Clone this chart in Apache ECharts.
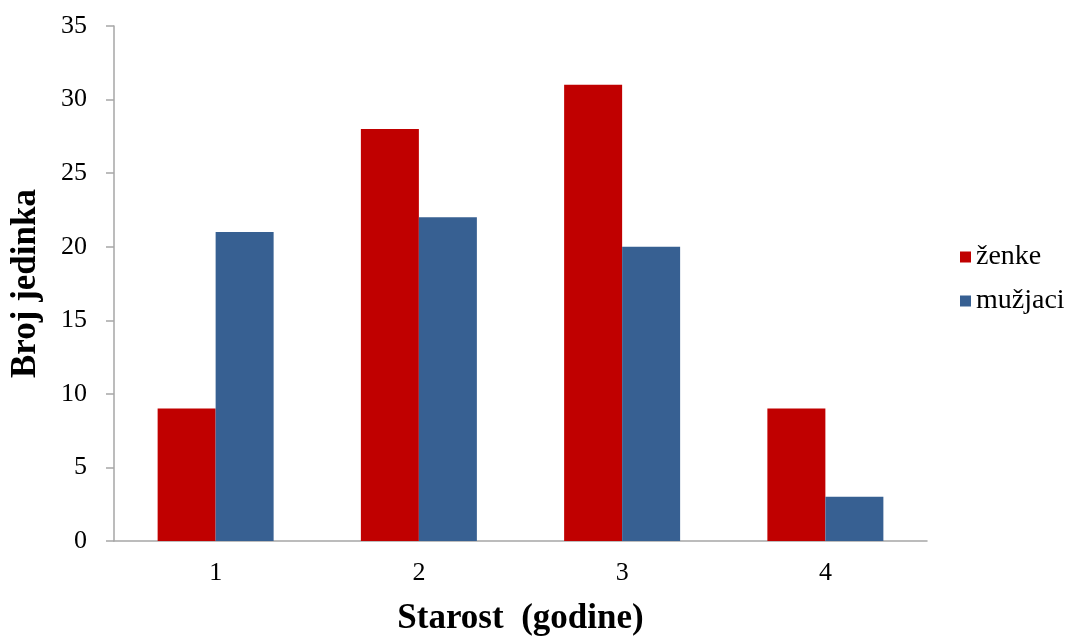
<!DOCTYPE html>
<html>
<head>
<meta charset="utf-8">
<script src="https://cdn.jsdelivr.net/npm/echarts@6/dist/echarts.min.js"></script>
<style>html,body{margin:0;padding:0;background:#fff}#c{width:1071px;height:641px}</style>
</head>
<body>
<div id="c"></div>
<script>
const categories = ['1', '2', '3', '4'];
const zenke = [9, 28, 31, 9];
const muzjaci = [21, 22, 20, 3];
const seriesNames = ['ženke', 'mužjaci'];
const xAxisTitle = 'Starost  (godine)';
const yAxisTitle = 'Broj jedinka';

const chart = echarts.init(document.getElementById('c'));
const font = '"Liberation Serif", "Times New Roman", serif';
chart.setOption({
  animation: false,
  backgroundColor: '#ffffff',
  grid: { left: 114, top: 26, right: 144, bottom: 98 },
  legend: {
    orient: 'vertical',
    left: 955, top: 238,
    itemWidth: 11, itemHeight: 11, itemGap: 16,
    icon: 'rect',
    textStyle: { fontFamily: font, fontSize: 28, color: '#000', padding: [0, 0, 0, 0] },
    data: seriesNames
  },
  xAxis: {
    type: 'category',
    data: categories,
    name: xAxisTitle,
    nameLocation: 'middle',
    nameGap: 60,
    nameTextStyle: { fontFamily: font, fontSize: 35, fontWeight: 'bold', color: '#000' },
    axisLine: { lineStyle: { color: '#a6a6a6', width: 1.5 } },
    axisTick: { show: false },
    axisLabel: { fontFamily: font, fontSize: 26, color: '#000', margin: 19 }
  },
  yAxis: {
    type: 'value',
    min: 0, max: 35, interval: 5,
    name: yAxisTitle,
    nameLocation: 'middle',
    nameGap: 71,
    nameTextStyle: { fontFamily: font, fontSize: 35, fontWeight: 'bold', color: '#000' },
    axisLine: { show: true, lineStyle: { color: '#a6a6a6', width: 1.5 } },
    axisTick: { show: true, inside: false, length: 8, lineStyle: { color: '#a6a6a6', width: 1.5 } },
    splitLine: { show: false },
    axisLabel: { fontFamily: font, fontSize: 26, color: '#000', margin: 27 }
  },
  series: [
    { name: seriesNames[0], type: 'bar', data: zenke, barWidth: 58, barGap: '0%', itemStyle: { color: '#c00000' } },
    { name: seriesNames[1], type: 'bar', data: muzjaci, barWidth: 58, barGap: '0%', itemStyle: { color: '#376092' } }
  ]
});
</script>
</body>
</html>
